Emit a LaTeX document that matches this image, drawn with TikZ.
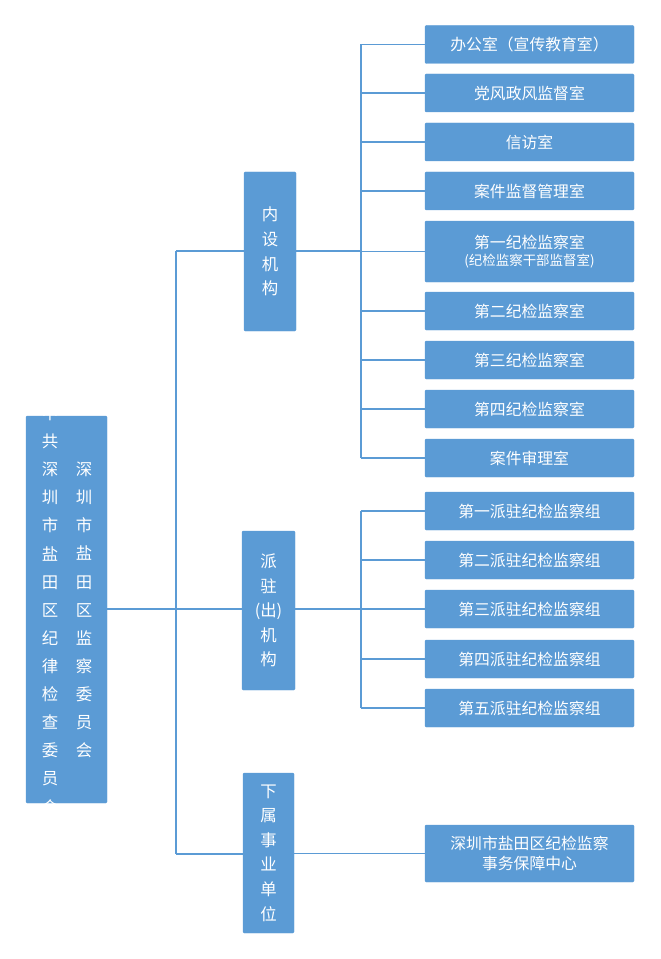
\documentclass[tikz,border=0pt]{standalone}
\usepackage{fontspec}
\setmainfont{Noto Sans CJK SC}
\usetikzlibrary{positioning}
\definecolor{boxblue}{HTML}{5B9BD5}
\tikzset{box/.style={draw=boxblue,fill=boxblue,text=white,rounded corners=1pt,inner sep=0pt,align=center,font=\fontsize{13.5}{17}\selectfont},
         vbox/.style={box,font=\fontsize{14}{21}\selectfont},
         link/.style={draw=boxblue,line width=1pt},
        }
\begin{document}
\begin{tikzpicture}[x=0.03cm,y=-0.03cm]
    \useasboundingbox (0,0) rectangle (660,959);
    % root
    \node[vbox,minimum width=81*0.03cm,minimum height=387*0.03cm](root)at(66.5,609.5){};
    \node[text=white,align=center,font=\fontsize{14}{24}\selectfont,inner sep=0pt](rootl)at(50,610){中\\共\\深\\圳\\市\\盐\\田\\区\\纪\\律\\检\\查\\委\\员\\会};
    \node[text=white,align=center,font=\fontsize{14}{24}\selectfont,inner sep=0pt](rootr)at(84,610){深\\圳\\市\\盐\\田\\区\\监\\察\\委\\员\\会};
    % middle level
    \node[vbox,minimum width=52*0.03cm,minimum height=159*0.03cm](nsjg)at(270,251.5){内\\设\\机\\构};
    \node[vbox,minimum width=53*0.03cm,minimum height=159*0.03cm](pzjg)at(268.5,610.5){派\\驻\\(出)\\机\\构};
    \node[vbox,minimum width=51*0.03cm,minimum height=160*0.03cm](sydw)at(268.5,853){下\\属\\事\\业\\单\\位};
    % right level
    \foreach \name/\yc/\txt in {a1/44.5/办公室（宣传教育室）,a2/93/党风政风监督室,a3/142/信访室,a4/191/案件监督管理室,
                                a6/311/第二纪检监察室,a7/360/第三纪检监察室,a8/409/第四纪检监察室,a9/458/案件审理室,
                                b1/511/第一派驻纪检监察组,b2/560/第二派驻纪检监察组,b3/609/第三派驻纪检监察组,b4/659/第四派驻纪检监察组,b5/708/第五派驻纪检监察组}
        \node[box,minimum width=209*0.03cm,minimum height=38*0.03cm](\name)at(529.5,\yc){\txt};
    \node[box,minimum width=209*0.03cm,minimum height=61*0.03cm](a5)at(529.5,251.5){第一纪检监察室\\[-2pt]{\fontsize{11.5}{14}\selectfont(纪检监察干部监督室)}};
    \node[box,minimum width=209*0.03cm,minimum height=57*0.03cm](c1)at(529.5,853.5){深圳市盐田区纪检监察\\事务保障中心};
    % connectors
    \coordinate(trunk)at(176,609);
    \coordinate(busa)at(361,251);
    \coordinate(busb)at(361,609);
    \draw[link](root.east|-trunk)--(trunk);
    \draw[link](176,251)--(176,854);
    \draw[link](176,251)--(nsjg.west|-176,251);
    \draw[link](trunk)--(pzjg.west|-trunk);
    \draw[link](176,854)--(sydw.west|-176,854);
    \draw[link](nsjg.east|-busa)--(busa);
    \draw[link](pzjg.east|-busb)--(busb);
    \draw[link](361,44.5)--(361,458);
    \draw[link](361,511)--(361,708);
    \foreach \name in {a1,a2,a3,a4,a5,a6,a7,a8,a9,b1,b2,b3,b4,b5}
        \draw[link](361,0|-\name.west)--(\name.west);
    \draw[link](sydw.east|-c1.west)--(c1.west);
\end{tikzpicture}
\end{document}
